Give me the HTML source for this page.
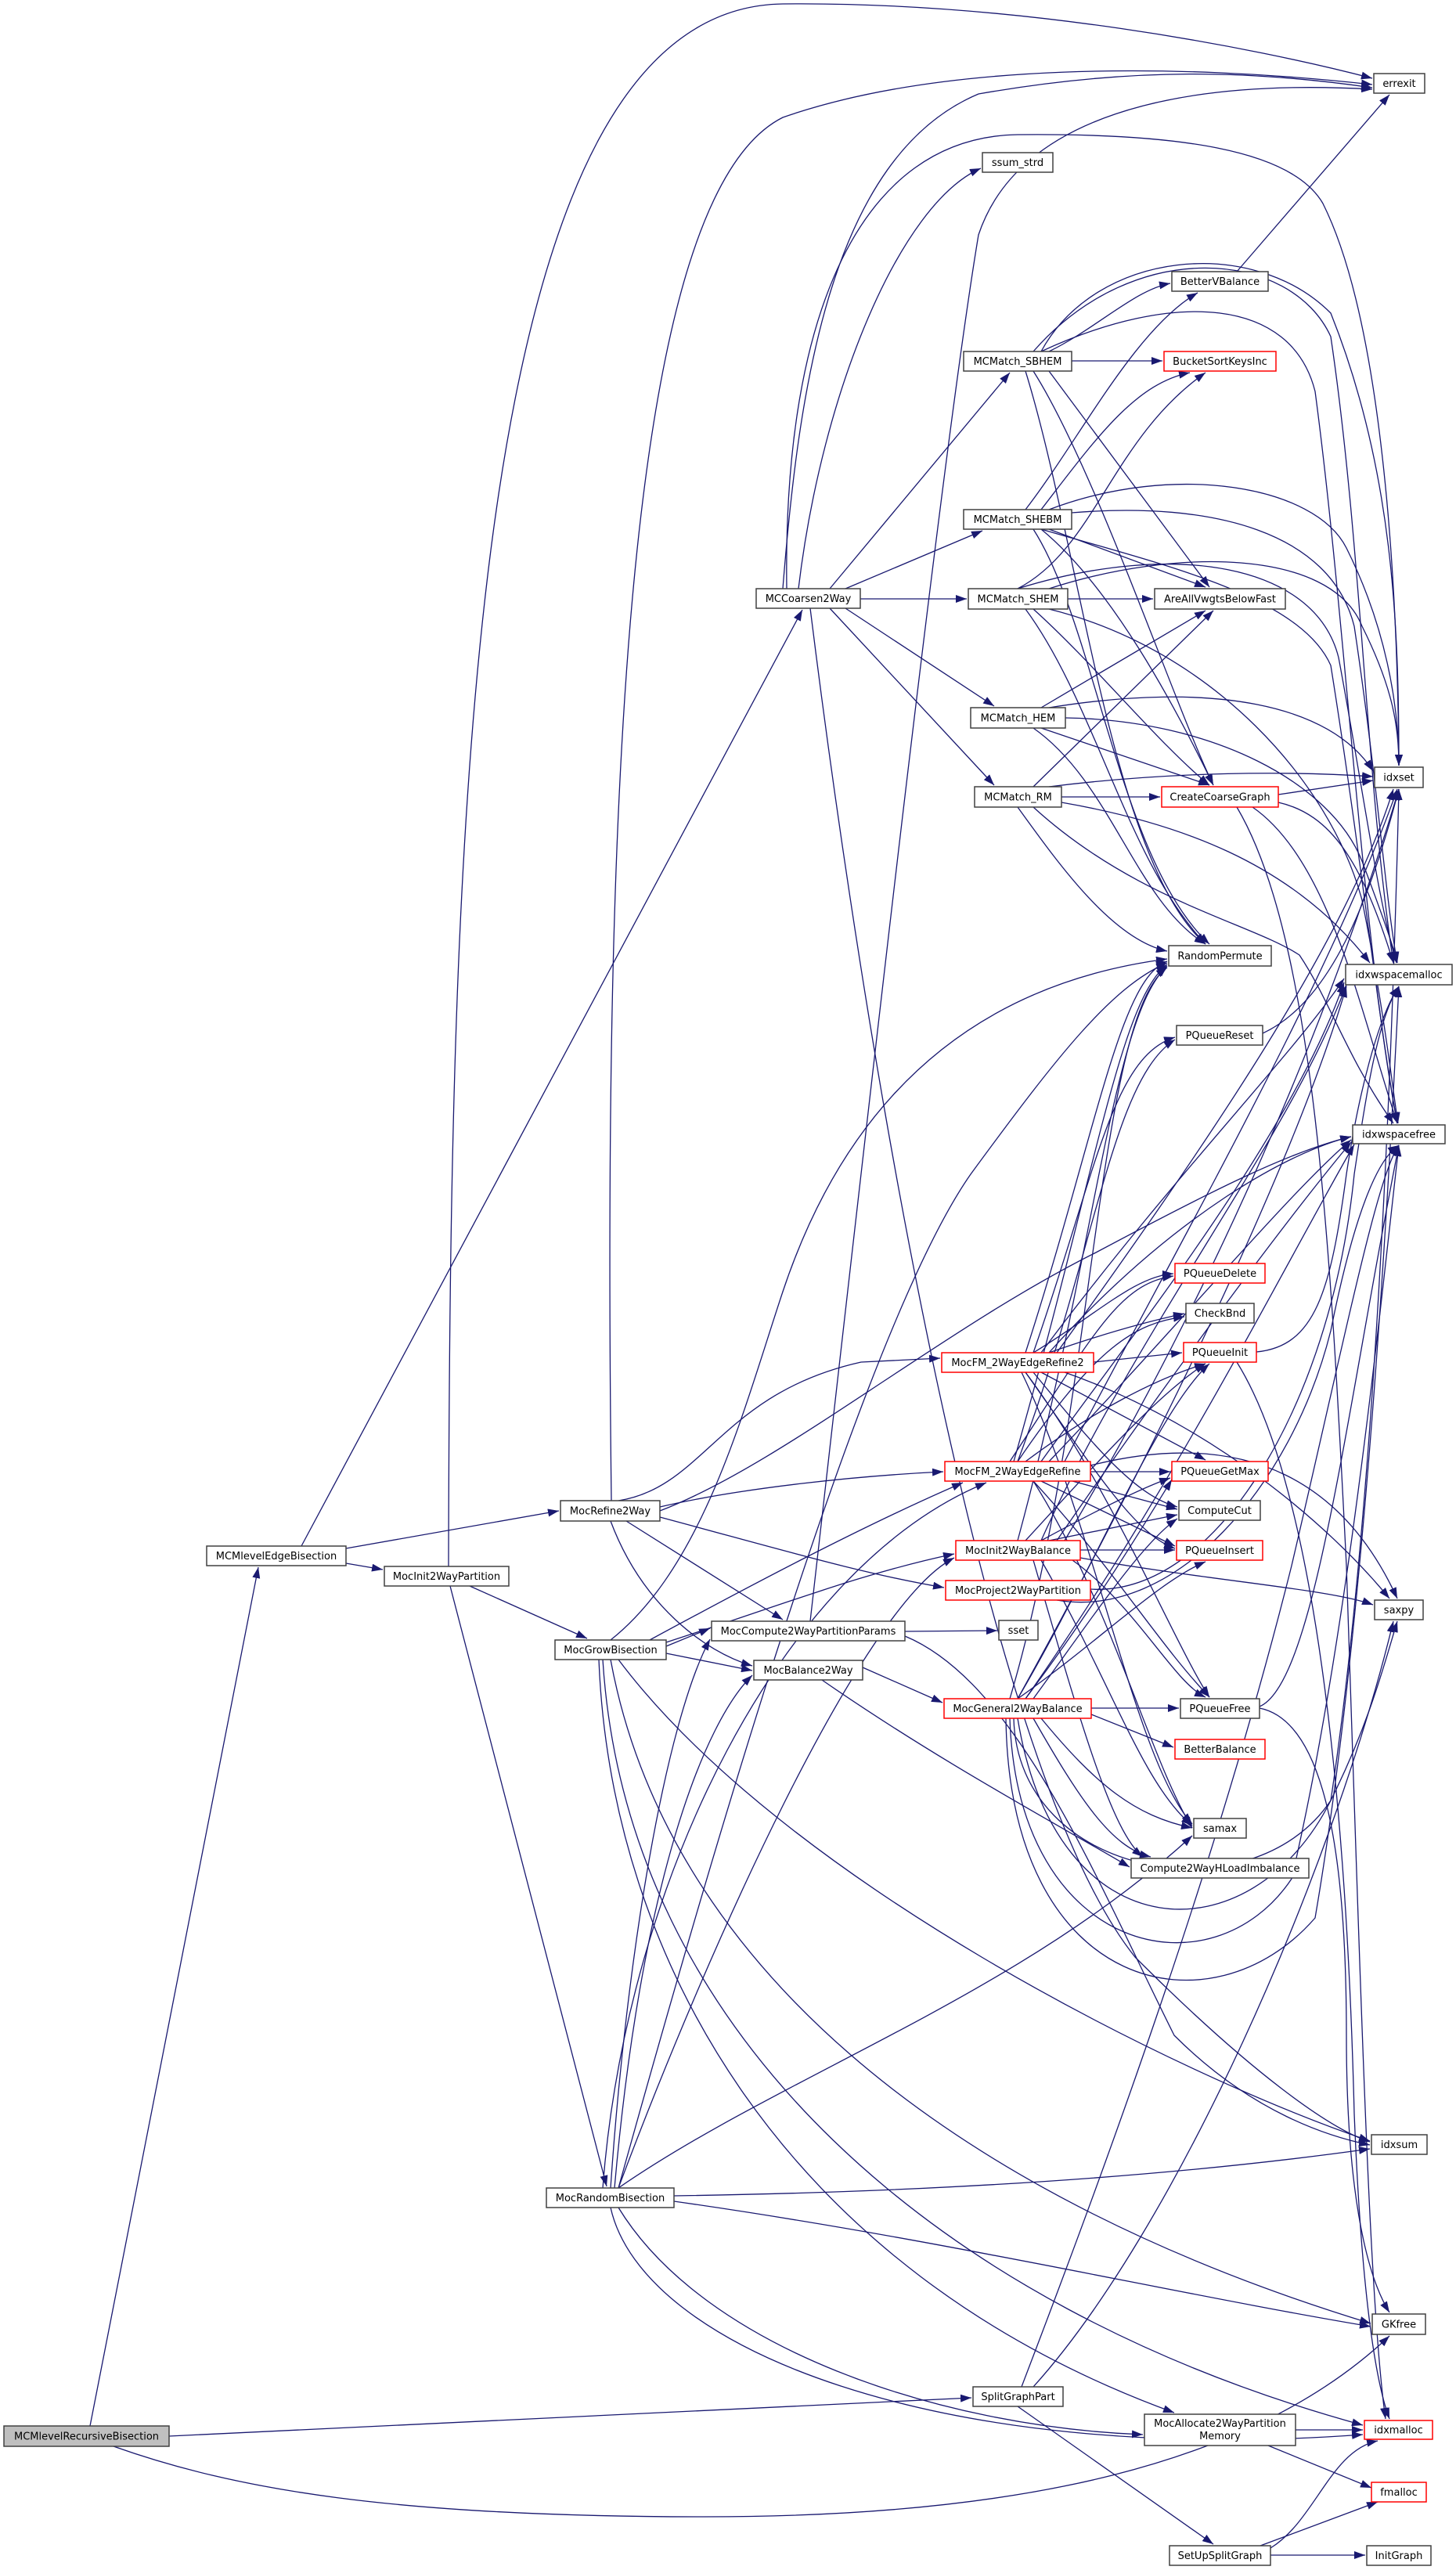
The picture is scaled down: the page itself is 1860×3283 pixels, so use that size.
<!DOCTYPE html>
<html><head><meta charset="utf-8"><style>
html,body{margin:0;padding:0;background:#fff}
svg{display:block}
text{font-family:"DejaVu Sans","Liberation Sans",sans-serif;font-size:13px;fill:#000;text-anchor:middle}
.e{fill:none;stroke:#191970;stroke-width:1.3;marker-end:url(#ah)}
.n{fill:#fff;stroke:#404040;stroke-width:1.5}
.r{fill:#fff;stroke:#ff0000;stroke-width:1.5}
</style></head><body>
<svg width="1860" height="3283" viewBox="0 0 1860 3283" xmlns="http://www.w3.org/2000/svg">
<defs><marker id="ah" markerUnits="userSpaceOnUse" markerWidth="14" markerHeight="10" refX="14" refY="5" orient="auto"><path d="M0,0 L14,5 L0,10 z" fill="#191970"/></marker></defs>
<g>
<path class="e" d="M115,3099 L330,2002"/>
<path class="e" d="M216,3112 L1241,3063"/>
<path class="e" d="M145,3125 C300,3180 500,3215 900,3215 C1300,3215 1600,3150 1775,2984"/>
<path class="e" d="M385,1975 L1025,779"/>
<path class="e" d="M442,1978 L714,1930"/>
<path class="e" d="M442,1997 L489,2005"/>
<path class="e" d="M573,2001 C575,1000 600,10 1000,5 C1300,2 1600,60 1753,100"/>
<path class="e" d="M600,2026 L750,2093"/>
<path class="e" d="M575,2026 L775,2793"/>
<path class="e" d="M781,1917 C770,1000 800,250 1000,150 C1200,80 1500,80 1753,108"/>
<path class="e" d="M1005,752 C1000,400 1100,175 1300,172 C1500,170 1650,190 1690,260 C1760,400 1785,700 1787,978"/>
<path class="e" d="M1000,752 C1020,500 1060,200 1250,120 C1450,85 1600,90 1753,112"/>
<path class="e" d="M1020,752 C1050,500 1150,260 1253,215"/>
<path class="e" d="M1060,752 L1290,476"/>
<path class="e" d="M1080,752 L1255,678"/>
<path class="e" d="M1099,765 L1235,765"/>
<path class="e" d="M1080,777 L1270,902"/>
<path class="e" d="M1060,777 L1270,1003"/>
<path class="e" d="M1035,777 C1100,1300 1250,2250 1450,2500 C1600,2650 1700,2720 1750,2736"/>
<path class="e" d="M1035,2071 C1100,1500 1200,600 1250,300 C1300,150 1500,100 1753,114"/>
<path class="e" d="M1340,449 C1400,420 1450,370 1495,362"/>
<path class="e" d="M1369,461 L1485,461"/>
<path class="e" d="M1340,474 L1545,750"/>
<path class="e" d="M1320,474 C1400,600 1500,900 1550,1003"/>
<path class="e" d="M1310,474 C1380,700 1420,1100 1540,1206"/>
<path class="e" d="M1330,449 C1400,320 1600,300 1700,400 C1780,600 1787,800 1787,978"/>
<path class="e" d="M1320,449 C1450,300 1650,320 1700,430 C1740,700 1745,1000 1780,1230"/>
<path class="e" d="M1330,449 C1500,370 1650,380 1680,500 C1720,800 1740,1200 1785,1435"/>
<path class="e" d="M1310,651 C1380,560 1450,420 1530,374"/>
<path class="e" d="M1330,651 C1400,560 1450,490 1520,476"/>
<path class="e" d="M1340,676 L1540,750"/>
<path class="e" d="M1330,676 C1420,750 1500,900 1550,1003"/>
<path class="e" d="M1320,676 C1400,800 1430,1100 1545,1206"/>
<path class="e" d="M1340,651 C1500,590 1680,620 1720,700 C1770,800 1787,900 1787,978"/>
<path class="e" d="M1369,655 C1550,640 1700,680 1730,800 C1760,1000 1770,1150 1785,1230"/>
<path class="e" d="M1330,676 C1480,720 1660,760 1700,850 C1740,1100 1760,1300 1785,1435"/>
<path class="e" d="M1300,752 C1400,700 1420,560 1540,476"/>
<path class="e" d="M1364,765 L1473,765"/>
<path class="e" d="M1320,778 C1400,850 1480,950 1545,1003"/>
<path class="e" d="M1310,778 C1400,900 1440,1100 1540,1206"/>
<path class="e" d="M1340,752 C1500,700 1700,700 1740,800 C1780,880 1787,930 1787,978"/>
<path class="e" d="M1300,752 C1500,690 1680,720 1710,840 C1740,1000 1760,1150 1784,1230"/>
<path class="e" d="M1340,778 C1550,830 1700,1000 1740,1150 C1770,1300 1780,1400 1786,1435"/>
<path class="e" d="M1330,904 L1540,780"/>
<path class="e" d="M1330,930 L1545,1003"/>
<path class="e" d="M1320,930 C1420,1000 1450,1150 1540,1206"/>
<path class="e" d="M1340,904 C1550,870 1700,900 1754,985"/>
<path class="e" d="M1361,917 C1550,920 1700,1000 1740,1100 C1770,1180 1780,1210 1785,1230"/>
<path class="e" d="M1320,1005 L1550,780"/>
<path class="e" d="M1356,1018 L1482,1018"/>
<path class="e" d="M1300,1031 C1350,1100 1420,1200 1491,1215"/>
<path class="e" d="M1340,1005 C1500,985 1650,985 1754,992"/>
<path class="e" d="M1356,1025 C1500,1050 1650,1100 1750,1230"/>
<path class="e" d="M1320,1031 C1450,1150 1600,1180 1660,1220 C1700,1280 1720,1350 1780,1435"/>
<path class="e" d="M1580,347 L1775,121"/>
<path class="e" d="M1633,1015 L1754,997"/>
<path class="e" d="M1633,1025 C1700,1040 1740,1100 1780,1230"/>
<path class="e" d="M1600,1031 C1700,1100 1740,1300 1785,1435"/>
<path class="e" d="M1580,1031 C1680,1200 1700,1600 1720,2000 C1740,2600 1750,2950 1770,3090"/>
<path class="e" d="M790,1917 C900,1900 920,1780 1100,1740 L1201,1735"/>
<path class="e" d="M843,1925 C950,1900 1100,1885 1205,1880"/>
<path class="e" d="M843,1938 C1000,1980 1100,2010 1206,2028"/>
<path class="e" d="M800,1943 L1000,2069"/>
<path class="e" d="M780,1943 C820,2050 900,2110 961,2128"/>
<path class="e" d="M843,1930 C1000,1870 1200,1700 1400,1600 C1550,1520 1650,1470 1726,1452"/>
<path class="e" d="M851,2103 L907,2080"/>
<path class="e" d="M851,2112 L961,2134"/>
<path class="e" d="M851,2098 C1000,2050 1100,2010 1219,1985"/>
<path class="e" d="M830,2095 C950,2030 1100,1950 1230,1894"/>
<path class="e" d="M780,2095 C900,2000 950,1800 1000,1650 C1100,1350 1300,1250 1491,1225"/>
<path class="e" d="M790,2120 C1000,2400 1500,2650 1750,2735"/>
<path class="e" d="M780,2120 C850,2500 1200,2800 1751,2968"/>
<path class="e" d="M770,2120 C800,2600 1200,2950 1741,3098"/>
<path class="e" d="M765,2120 C780,2500 1000,2900 1500,3082"/>
<path class="e" d="M780,2795 C800,2500 850,2200 907,2094"/>
<path class="e" d="M785,2795 C820,2400 900,2200 961,2140"/>
<path class="e" d="M790,2795 C900,2500 1100,2050 1219,1990"/>
<path class="e" d="M770,2795 C800,2400 1000,2000 1260,1894"/>
<path class="e" d="M790,2795 C1000,2650 1300,2550 1523,2345"/>
<path class="e" d="M861,2805 C1200,2800 1500,2780 1750,2745"/>
<path class="e" d="M861,2812 C1200,2860 1500,2930 1751,2972"/>
<path class="e" d="M780,2820 C820,3000 1200,3150 1741,3110"/>
<path class="e" d="M790,2820 C900,3000 1200,3100 1460,3110"/>
<path class="e" d="M790,2795 C900,2400 1100,1700 1240,1500 C1350,1350 1420,1260 1491,1230"/>
<path class="e" d="M1156,2084 L1274,2083"/>
<path class="e" d="M1156,2090 C1300,2150 1400,2400 1500,2600 C1600,2700 1700,2730 1750,2740"/>
<path class="e" d="M1102,2130 L1204,2175"/>
<path class="e" d="M1050,2146 C1200,2250 1350,2330 1443,2385"/>
<path class="e" d="M1320,1728 C1400,1680 1450,1630 1499,1627"/>
<path class="e" d="M1340,1728 C1420,1700 1480,1685 1513,1678"/>
<path class="e" d="M1397,1740 L1510,1728"/>
<path class="e" d="M1330,1753 L1540,1865"/>
<path class="e" d="M1320,1753 C1400,1850 1450,1910 1504,1925"/>
<path class="e" d="M1310,1753 C1400,1880 1450,1960 1501,1978"/>
<path class="e" d="M1310,1753 C1420,1900 1500,2100 1545,2168"/>
<path class="e" d="M1320,1728 C1400,1500 1420,1350 1501,1325"/>
<path class="e" d="M1310,1728 C1400,1450 1430,1250 1491,1228"/>
<path class="e" d="M1330,1728 C1500,1500 1650,1350 1717,1250"/>
<path class="e" d="M1340,1728 C1500,1550 1650,1470 1726,1452"/>
<path class="e" d="M1350,1728 C1550,1450 1720,1200 1780,1008"/>
<path class="e" d="M1360,1753 C1550,1820 1700,1950 1775,2042"/>
<path class="e" d="M1305,1753 C1400,1950 1450,2250 1523,2330"/>
<path class="e" d="M1290,1867 C1400,1700 1430,1640 1499,1630"/>
<path class="e" d="M1300,1867 C1400,1720 1450,1690 1513,1682"/>
<path class="e" d="M1310,1867 C1400,1800 1480,1760 1540,1742"/>
<path class="e" d="M1393,1880 L1495,1880"/>
<path class="e" d="M1370,1892 L1504,1928"/>
<path class="e" d="M1330,1892 L1501,1975"/>
<path class="e" d="M1320,1892 C1420,2000 1480,2100 1545,2168"/>
<path class="e" d="M1300,1867 C1400,1600 1420,1380 1501,1328"/>
<path class="e" d="M1295,1867 C1400,1500 1430,1280 1491,1232"/>
<path class="e" d="M1330,1867 C1450,1700 1650,1450 1717,1255"/>
<path class="e" d="M1340,1867 C1500,1700 1650,1520 1726,1456"/>
<path class="e" d="M1360,1867 C1500,1600 1700,1250 1785,1008"/>
<path class="e" d="M1393,1872 C1600,1820 1720,1900 1785,2042"/>
<path class="e" d="M1320,1892 C1420,2050 1470,2250 1523,2335"/>
<path class="e" d="M1310,1968 C1400,1870 1480,1780 1540,1742"/>
<path class="e" d="M1330,1968 C1400,1930 1460,1900 1495,1888"/>
<path class="e" d="M1340,1968 L1504,1935"/>
<path class="e" d="M1380,1980 L1501,1980"/>
<path class="e" d="M1370,1993 C1450,2050 1500,2150 1540,2168"/>
<path class="e" d="M1330,1993 C1420,2150 1460,2280 1523,2332"/>
<path class="e" d="M1320,1993 C1380,2200 1420,2340 1460,2372"/>
<path class="e" d="M1300,1968 C1400,1600 1420,1300 1491,1234"/>
<path class="e" d="M1330,1968 C1450,1700 1650,1450 1720,1258"/>
<path class="e" d="M1350,1968 C1500,1750 1650,1550 1726,1459"/>
<path class="e" d="M1360,1968 C1550,1650 1700,1300 1787,1008"/>
<path class="e" d="M1380,1990 C1550,2020 1700,2030 1754,2050"/>
<path class="e" d="M1393,2030 C1550,2040 1700,1800 1730,1500 C1745,1400 1760,1300 1787,1260"/>
<path class="e" d="M1350,2044 C1500,2070 1650,1900 1700,1700 C1730,1550 1760,1480 1787,1463"/>
<path class="e" d="M1394,2182 L1506,2182"/>
<path class="e" d="M1394,2190 L1499,2232"/>
<path class="e" d="M1330,2195 C1400,2280 1450,2320 1523,2335"/>
<path class="e" d="M1320,2195 C1380,2300 1420,2360 1470,2372"/>
<path class="e" d="M1300,2170 C1400,2100 1480,2020 1540,1995"/>
<path class="e" d="M1310,2170 C1400,2050 1460,1950 1497,1890"/>
<path class="e" d="M1320,2170 C1400,2060 1460,1970 1504,1940"/>
<path class="e" d="M1300,2170 C1400,2000 1480,1800 1545,1742"/>
<path class="e" d="M1290,2170 C1400,1800 1400,1300 1491,1236"/>
<path class="e" d="M1300,2170 C1450,1900 1650,1500 1720,1260"/>
<path class="e" d="M1310,2170 C1500,1900 1650,1600 1730,1462"/>
<path class="e" d="M1300,2195 C1350,2500 1600,2500 1700,2300 C1760,1900 1780,1300 1787,1008"/>
<path class="e" d="M1295,2195 C1300,2400 1600,2450 1700,2300 C1750,2200 1770,2120 1785,2071"/>
<path class="e" d="M1290,2195 C1300,2500 1550,2550 1650,2400 C1720,2100 1760,1700 1787,1463"/>
<path class="e" d="M1285,2195 C1290,2550 1550,2600 1680,2450 C1740,2100 1770,1600 1787,1260"/>
<path class="e" d="M1605,1727 C1680,1720 1700,1650 1720,1500 C1735,1400 1760,1300 1787,1260"/>
<path class="e" d="M1580,1740 C1680,1900 1720,2300 1730,2700 C1740,2950 1760,3050 1775,3090"/>
<path class="e" d="M1613,1320 C1700,1280 1750,1150 1787,1008"/>
<path class="e" d="M1609,2180 C1680,2150 1720,1800 1787,1463"/>
<path class="e" d="M1609,2182 C1700,2200 1720,2400 1720,2600 C1720,2850 1760,2930 1775,2954"/>
<path class="e" d="M1300,3074 L1550,3250"/>
<path class="e" d="M1320,3049 C1500,2850 1700,2400 1780,2071"/>
<path class="e" d="M1305,3049 C1400,2800 1550,2400 1650,2000 C1720,1700 1760,1500 1787,1463"/>
<path class="e" d="M1655,3104 L1741,3104"/>
<path class="e" d="M1620,3124 L1752,3178"/>
<path class="e" d="M1623,3264 L1744,3264"/>
<path class="e" d="M1610,3252 L1760,3196"/>
<path class="e" d="M1623,3255 C1680,3220 1700,3130 1760,3118"/>
</g>
<g>
<rect x="5" y="3099" width="211" height="26" fill="#bfbfbf" stroke="#404040" stroke-width="1.5"/><text x="110.5" y="3116.5">MCMlevelRecursiveBisection</text>
<rect class="n" x="264" y="1975" width="178" height="25"/><text x="353" y="1992">MCMlevelEdgeBisection</text>
<rect class="n" x="491" y="2001" width="159" height="25"/><text x="570.5" y="2018">MocInit2WayPartition</text>
<rect class="n" x="716" y="1917" width="127" height="26"/><text x="779.5" y="1934.5">MocRefine2Way</text>
<rect class="n" x="709" y="2095" width="142" height="25"/><text x="780" y="2112">MocGrowBisection</text>
<rect class="n" x="698" y="2795" width="163" height="25"/><text x="779.5" y="2812">MocRandomBisection</text>
<rect class="n" x="1243" y="3049" width="115" height="25"/><text x="1300.5" y="3066">SplitGraphPart</text>
<rect class="n" x="966" y="752" width="133" height="25"/><text x="1032.5" y="769">MCCoarsen2Way</text>
<rect class="n" x="1255" y="195" width="90" height="25"/><text x="1300" y="212">ssum_strd</text>
<rect class="n" x="1231" y="449" width="138" height="25"/><text x="1300" y="466">MCMatch_SBHEM</text>
<rect class="n" x="1231" y="651" width="138" height="25"/><text x="1300" y="668">MCMatch_SHEBM</text>
<rect class="n" x="1237" y="752" width="127" height="26"/><text x="1300.5" y="769.5">MCMatch_SHEM</text>
<rect class="n" x="1240" y="904" width="121" height="26"/><text x="1300.5" y="921.5">MCMatch_HEM</text>
<rect class="n" x="1245" y="1005" width="111" height="26"/><text x="1300.5" y="1022.5">MCMatch_RM</text>
<rect class="n" x="1755" y="94" width="65" height="25"/><text x="1787.5" y="111">errexit</text>
<rect class="n" x="1497" y="347" width="123" height="25"/><text x="1558.5" y="364">BetterVBalance</text>
<rect class="r" x="1487" y="449" width="143" height="25"/><text x="1558.5" y="466">BucketSortKeysInc</text>
<rect class="n" x="1475" y="752" width="167" height="26"/><text x="1558.5" y="769.5">AreAllVwgtsBelowFast</text>
<rect class="n" x="1756" y="980" width="62" height="26"/><text x="1787" y="997.5">idxset</text>
<rect class="r" x="1484" y="1005" width="149" height="26"/><text x="1558.5" y="1022.5">CreateCoarseGraph</text>
<rect class="n" x="1493" y="1208" width="131" height="26"/><text x="1558.5" y="1225.5">RandomPermute</text>
<rect class="n" x="1719" y="1232" width="136" height="26"/><text x="1787" y="1249.5">idxwspacemalloc</text>
<rect class="n" x="1503" y="1310" width="110" height="25"/><text x="1558" y="1327">PQueueReset</text>
<rect class="n" x="1728" y="1437" width="118" height="24"/><text x="1787" y="1453.5">idxwspacefree</text>
<rect class="r" x="1501" y="1614" width="115" height="25"/><text x="1558.5" y="1631">PQueueDelete</text>
<rect class="n" x="1515" y="1665" width="87" height="25"/><text x="1558.5" y="1682">CheckBnd</text>
<rect class="r" x="1512" y="1715" width="93" height="25"/><text x="1558.5" y="1732">PQueueInit</text>
<rect class="r" x="1203" y="1728" width="194" height="25"/><text x="1300" y="1745">MocFM_2WayEdgeRefine2</text>
<rect class="r" x="1207" y="1867" width="186" height="25"/><text x="1300" y="1884">MocFM_2WayEdgeRefine</text>
<rect class="r" x="1497" y="1867" width="123" height="25"/><text x="1558.5" y="1884">PQueueGetMax</text>
<rect class="n" x="1506" y="1917" width="104" height="25"/><text x="1558" y="1934">ComputeCut</text>
<rect class="r" x="1221" y="1968" width="159" height="25"/><text x="1300.5" y="1985">MocInit2WayBalance</text>
<rect class="r" x="1503" y="1968" width="110" height="25"/><text x="1558" y="1985">PQueueInsert</text>
<rect class="r" x="1208" y="2019" width="185" height="25"/><text x="1300.5" y="2036">MocProject2WayPartition</text>
<rect class="n" x="1276" y="2070" width="50" height="25"/><text x="1301" y="2087">sset</text>
<rect class="n" x="1756" y="2044" width="62" height="25"/><text x="1787" y="2061">saxpy</text>
<rect class="n" x="909" y="2071" width="247" height="25"/><text x="1032.5" y="2088">MocCompute2WayPartitionParams</text>
<rect class="n" x="963" y="2121" width="139" height="25"/><text x="1032.5" y="2138">MocBalance2Way</text>
<rect class="r" x="1206" y="2170" width="188" height="25"/><text x="1300" y="2187">MocGeneral2WayBalance</text>
<rect class="n" x="1508" y="2170" width="101" height="25"/><text x="1558.5" y="2187">PQueueFree</text>
<rect class="r" x="1501" y="2222" width="115" height="25"/><text x="1558.5" y="2239">BetterBalance</text>
<rect class="n" x="1525" y="2323" width="67" height="25"/><text x="1558.5" y="2340">samax</text>
<rect class="n" x="1445" y="2374" width="227" height="25"/><text x="1558.5" y="2391">Compute2WayHLoadImbalance</text>
<rect class="n" x="1752" y="2727" width="71" height="25"/><text x="1787.5" y="2744">idxsum</text>
<rect class="n" x="1753" y="2956" width="68" height="26"/><text x="1787" y="2973.5">GKfree</text>
<rect class="n" x="1462" y="3084" width="193" height="40"/><text x="1558.5" y="3100">MocAllocate2WayPartition</text><text x="1558.5" y="3116">Memory</text>
<rect class="r" x="1743" y="3092" width="87" height="24"/><text x="1786.5" y="3108.5">idxmalloc</text>
<rect class="r" x="1752" y="3171" width="70" height="25"/><text x="1787" y="3188">fmalloc</text>
<rect class="n" x="1494" y="3252" width="129" height="25"/><text x="1558.5" y="3269">SetUpSplitGraph</text>
<rect class="n" x="1746" y="3252" width="82" height="25"/><text x="1787" y="3269">InitGraph</text>
</g>
</svg>
</body></html>
